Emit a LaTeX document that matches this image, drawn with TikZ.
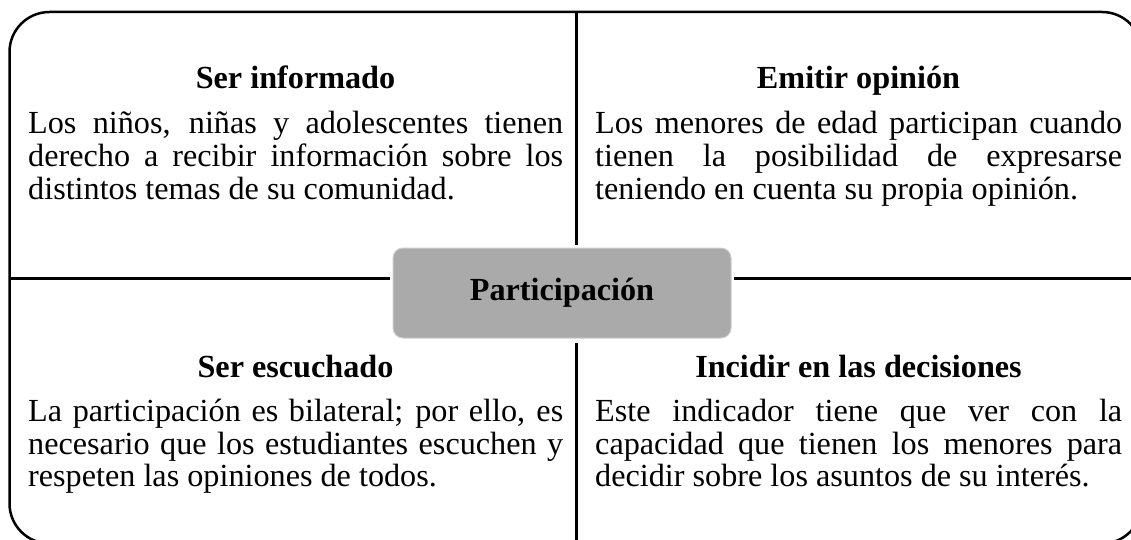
\documentclass[tikz,border=0pt]{standalone}
\usepackage{fontspec}
\setmainfont{Liberation Serif}
\definecolor{hubgray}{RGB}{170,170,170}
\definecolor{hubedge}{RGB}{205,205,205}
\newcommand{\jl}[2]{\makebox[#1][s]{#2}}
\begin{document}
\begin{tikzpicture}[x=1pt,y=-1pt,
  body/.style={anchor=base west,inner sep=0pt,font=\fontsize{32.2}{33}\selectfont},
  head/.style={anchor=base,inner sep=0pt,font=\fontsize{32.2}{33}\selectfont\bfseries},
  rule/.style={line width=3pt},
  frame/.style={line width=2.5pt,rounded corners=40pt},
  hub/.style={fill=hubgray,draw=hubedge,line width=1pt,rounded corners=10pt,
    minimum width=338pt,minimum height=90pt,inner sep=0pt,
    font=\fontsize{32.2}{33}\selectfont\bfseries}]
\useasboundingbox (0,0) rectangle (1131,540);
\begin{scope}
\clip (0,0) rectangle (1131,540);
\draw[frame] (9.5,12) rectangle (1142,543.5);
\coordinate (ftop) at (576,12);
\coordinate (fbot) at (576,543.5);
\coordinate (fleft) at (9.5,278);
\coordinate (fright) at (1142,278);
\node[hub] (hub) at (562,293) {Participación};
\draw[rule,shorten >=3pt] (ftop) -- (ftop |- hub.north);
\draw[rule,shorten >=4pt] (fbot) -- (fbot |- hub.south);
\draw[rule,shorten >=3pt] (fleft) -- (fleft -| hub.west);
\draw[rule,shorten >=2pt] (fright) -- (fright -| hub.east);
\end{scope}
% top left
\node[head] (h1) at (295.5,89) {Ser informado};
\node[body] (a1) at (28,134) {\jl{535pt}{Los niños, niñas y adolescentes tienen}};
\node[body] (a2) at (28,167) {\jl{535pt}{derecho a recibir información sobre los}};
\node[body] (a3) at (28,199.5) {distintos temas de su comunidad.};
% top right
\node[head] (h2) at (858.5,89) {Emitir opinión};
\node[body] (b1) at (595,134) {\jl{527pt}{Los menores de edad participan cuando}};
\node[body] (b2) at (595,167) {\jl{527pt}{tienen la posibilidad de expresarse}};
\node[body] (b3) at (595,199.5) {teniendo en cuenta su propia opinión.};
% bottom left
\node[head] (h3) at (295.5,377) {Ser escuchado};
\node[body] (c1) at (28,421) {\jl{535pt}{La participación es bilateral; por ello, es}};
\node[body] (c2) at (28,454) {\jl{535pt}{necesario que los estudiantes escuchen y}};
\node[body] (c3) at (28,486.5) {respeten las opiniones de todos.};
% bottom right
\node[head] (h4) at (858.5,377) {Incidir en las decisiones};
\node[body] (d1) at (595,421) {\jl{527pt}{Este indicador tiene que ver con la}};
\node[body] (d2) at (595,454) {\jl{527pt}{capacidad que tienen los menores para}};
\node[body] (d3) at (595,486.5) {decidir sobre los asuntos de su interés.};
\end{tikzpicture}
\end{document}
